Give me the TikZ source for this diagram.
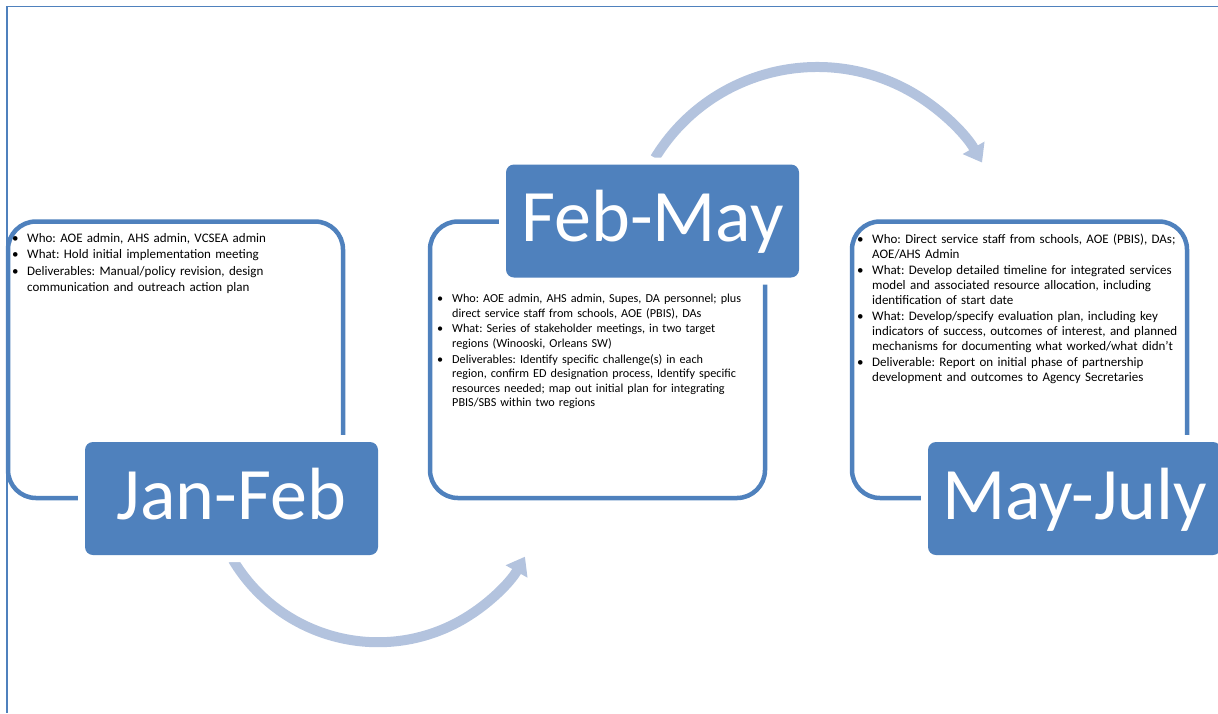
\documentclass[tikz,border=0pt]{standalone}
\usepackage{fontspec}
\setmainfont{Carlito}
\usetikzlibrary{arrows.meta}
\definecolor{accent}{RGB}{79,129,189}
\definecolor{arrowblue}{RGB}{179,195,222}
\newcommand{\bitem}[1]{\par\noindent\hangindent=15pt\hangafter=1\makebox[15pt][l]{\textbullet}#1\par}
\frenchspacing
\tikzset{
  outline/.style={draw=accent, line width=4.5pt, rounded corners=28pt, fill=white},
  label/.style={fill=accent, rounded corners=8pt, text=white, inner sep=0pt,
    preaction={draw=white, line width=14pt},
    minimum width=293pt, minimum height=113pt, text height=47pt, text depth=6pt,
    font=\fontsize{74}{80}\selectfont},
  txt/.style={anchor=north west, inner sep=0pt, text width=340pt, text=black},
  flow/.style={draw=arrowblue, line width=10pt, -{Triangle[width=24pt,length=17pt]}},
  frame/.style={draw=accent}
}
\begin{document}
\begin{tikzpicture}[x=1pt,y=-1pt]
\useasboundingbox (0,0) rectangle (1218,713);
% frame
\draw[frame, line width=1pt] (6,6) -- (1218,6);
\draw[frame, line width=2pt] (7,6) -- (7,713);
% outline boxes
\node[outline, minimum width=335pt, minimum height=276.5pt] (b1) at (175.5,359.75) {};
\node[outline, minimum width=335pt, minimum height=276.5pt] (b2) at (597.5,359.75) {};
\node[outline, minimum width=335pt, minimum height=276.5pt] (b3) at (1019.5,359.75) {};
% texts
\node[txt, font=\fontsize{13.0}{16}\selectfont\setlength{\parskip}{0.5pt}] (t1) at (12,225.5) {%
\bitem{\rule{0pt}{9.5pt}Who: AOE admin, AHS admin, VCSEA admin}
\bitem{What: Hold initial implementation meeting}
\bitem{Deliverables: Manual/policy revision, design\newline communication and outreach action plan}};
\node[txt, font=\fontsize{12.2}{14.4}\selectfont\setlength{\parskip}{1.5pt}] (t2) at (437,286.5) {%
\bitem{\rule{0pt}{9.5pt}Who: AOE admin, AHS admin, Supes, DA personnel; plus\newline direct service staff from schools, AOE (PBIS), DAs}
\bitem{What: Series of stakeholder meetings, in two target\newline regions (Winooski, Orleans SW)}
\bitem{Deliverables: Identify specific challenge(s) in each\newline region, confirm ED designation process, Identify specific\newline resources needed; map out initial plan for integrating\newline PBIS/SBS within two regions}};
\node[txt, font=\fontsize{13.0}{14.8}\selectfont\setlength{\parskip}{1.5pt}] (t3) at (857,227) {%
\bitem{\rule{0pt}{9.5pt}Who: Direct service staff from schools, AOE (PBIS), DAs;\newline AOE/AHS Admin}
\bitem{What: Develop detailed timeline for integrated services\newline model and associated resource allocation, including\newline identification of start date}
\bitem{What: Develop/specify evaluation plan, including key\newline indicators of success, outcomes of interest, and planned\newline mechanisms for documenting what worked/what didn{\char"27}t}
\bitem{Deliverable: Report on initial phase of partnership\newline development and outcomes to Agency Secretaries}};
% connectors
\coordinate (a1s) at (233,560);
\coordinate (a2s) at (655,158);
\draw[flow] (a1s) arc[start angle=149.1, end angle=29.6, radius=169];
\draw[flow] (a2s) arc[start angle=-148.6, end angle=-29.8, radius=190];
% labels
\node[label] (l1) at (231.5,498.5) {Jan-Feb};
\node[label] (l2) at (652.5,221) {Feb-May};
\node[label] (l3) at (1074.5,498.5) {May-July};
\end{tikzpicture}
\end{document}
